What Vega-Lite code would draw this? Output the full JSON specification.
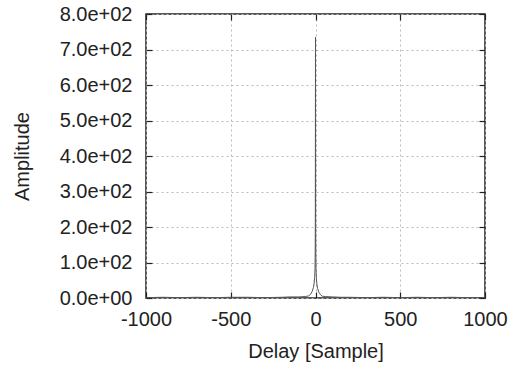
{
  "$schema": "https://vega.github.io/schema/vega-lite/v6.json",
  "autosize": "none",
  "width": 339,
  "height": 284,
  "padding": {"left": 146, "top": 14, "right": 25, "bottom": 67},
  "background": "white",
  "config": {
    "view": {"stroke": "#222", "strokeWidth": 1.5},
    "font": "Liberation Sans",
    "axis": {
      "labelFont": "Liberation Sans",
      "titleFont": "Liberation Sans",
      "labelFontSize": 20,
      "titleFontSize": 20,
      "titleFontWeight": "normal",
      "labelColor": "#222",
      "titleColor": "#222",
      "labelFlush": false,
      "labelOverlap": false,
      "domain": false,
      "tickColor": "#222",
      "tickSize": -6,
      "tickWidth": 1.2,
      "grid": true,
      "gridColor": "#bbb",
      "gridDash": [2, 3],
      "gridWidth": 1
    }
  },
  "data": {
    "values": [
      {"delay": -1000, "amp": 1}, {"delay": -900, "amp": 2}, {"delay": -800, "amp": 1},
      {"delay": -700, "amp": 2}, {"delay": -600, "amp": 1}, {"delay": -500, "amp": 2},
      {"delay": -400, "amp": 2}, {"delay": -300, "amp": 1}, {"delay": -200, "amp": 2},
      {"delay": -150, "amp": 3}, {"delay": -100, "amp": 3}, {"delay": -60, "amp": 4},
      {"delay": -40, "amp": 6}, {"delay": -30, "amp": 10}, {"delay": -20, "amp": 18},
      {"delay": -12, "amp": 30}, {"delay": -8, "amp": 42}, {"delay": -5, "amp": 58},
      {"delay": -3, "amp": 80}, {"delay": -2, "amp": 115}, {"delay": -1, "amp": 200},
      {"delay": 0, "amp": 735},
      {"delay": 1, "amp": 210}, {"delay": 2, "amp": 118}, {"delay": 3, "amp": 82},
      {"delay": 5, "amp": 56}, {"delay": 8, "amp": 40}, {"delay": 12, "amp": 27},
      {"delay": 20, "amp": 16}, {"delay": 30, "amp": 9}, {"delay": 40, "amp": 5},
      {"delay": 60, "amp": 4}, {"delay": 100, "amp": 3}, {"delay": 150, "amp": 2},
      {"delay": 200, "amp": 2}, {"delay": 300, "amp": 1}, {"delay": 400, "amp": 2},
      {"delay": 500, "amp": 1}, {"delay": 600, "amp": 2}, {"delay": 700, "amp": 1},
      {"delay": 800, "amp": 2}, {"delay": 900, "amp": 1}, {"delay": 1000, "amp": 1}
    ]
  },
  "layer": [
    {
      "mark": {"type": "line", "color": "#555", "strokeWidth": 1, "clip": true},
      "encoding": {
        "x": {
          "field": "delay",
          "type": "quantitative",
          "scale": {"domain": [-1000, 1000], "nice": false},
          "axis": {
            "values": [-1000, -500, 0, 500, 1000],
            "labelExpr": "'' + datum.value",
            "title": "Delay [Sample]",
            "labelPadding": 17,
            "titlePadding": 12
          }
        },
        "y": {
          "field": "amp",
          "type": "quantitative",
          "scale": {"domain": [0, 800], "nice": false},
          "axis": {
            "values": [0, 100, 200, 300, 400, 500, 600, 700, 800],
            "labelExpr": "replace(format(datum.value, '.1e'), 'e+', 'e+0')",
            "title": "Amplitude",
            "labelPadding": 20,
            "titlePadding": 27
          }
        }
      }
    },
    {
      "mark": {"type": "line", "opacity": 0, "clip": true},
      "encoding": {
        "x": {
          "field": "delay",
          "type": "quantitative",
          "axis": {"orient": "top", "values": [-1000, -500, 0, 500, 1000], "labels": false, "grid": false, "title": null}
        },
        "y": {
          "field": "amp",
          "type": "quantitative",
          "axis": {"orient": "right", "values": [0, 100, 200, 300, 400, 500, 600, 700, 800], "labels": false, "grid": false, "title": null}
        }
      }
    }
  ],
  "resolve": {"axis": {"x": "independent", "y": "independent"}}
}
